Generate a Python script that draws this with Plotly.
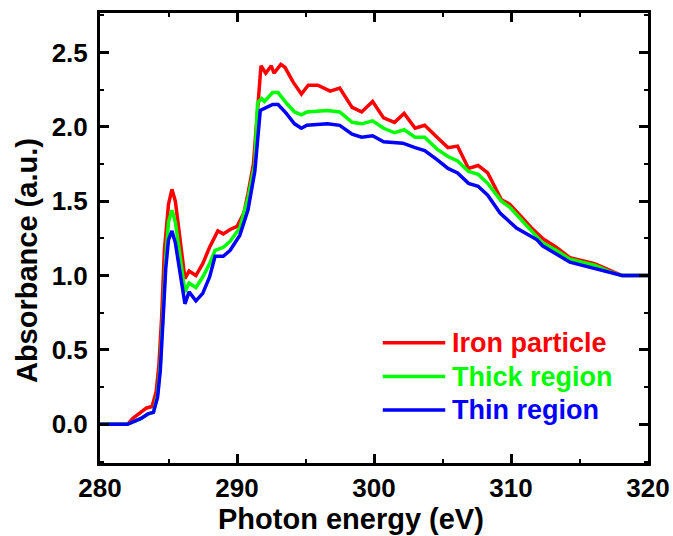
import plotly.graph_objects as go

# ---- data ----
energy_red = [280, 282, 282.4, 283.0, 283.4, 283.8, 284.1, 284.3, 284.5, 284.7, 285.0, 285.25, 285.5,
              286.2, 286.5, 287.0, 287.5, 288.0, 288.6, 289.0, 289.5, 290.0, 290.5, 290.8, 291.2,
              291.75, 292.1, 292.5, 292.7, 293.2, 293.5, 294.1, 294.7, 295.2, 295.9, 296.8, 297.5,
              298.4, 299.1, 299.9, 300.7, 301.5, 302.2, 303.0, 303.7, 304.6, 305.4, 306.1, 306.9,
              307.6, 308.3, 309.3, 309.9, 310.7, 311.5, 312.3, 313.3, 314.3, 316.1, 317.1, 318.1, 320]
iron_particle = [0.0, 0.0, 0.04, 0.08, 0.11, 0.12, 0.22, 0.40, 0.72, 1.17, 1.48, 1.58, 1.50,
                 0.98, 1.03, 1.00, 1.08, 1.19, 1.30, 1.28, 1.31, 1.33, 1.42, 1.55, 1.75,
                 2.41, 2.36, 2.41, 2.36, 2.42, 2.40, 2.30, 2.22, 2.28, 2.28, 2.24, 2.26,
                 2.13, 2.10, 2.17, 2.06, 2.03, 2.09, 1.99, 2.01, 1.93, 1.86, 1.87, 1.72,
                 1.74, 1.69, 1.51, 1.48, 1.40, 1.32, 1.25, 1.19, 1.12, 1.08, 1.04, 1.00, 1.00]

energy_green = [280, 282, 282.5, 283.0, 283.5, 283.9, 284.2, 284.4, 284.6, 284.8, 285.0, 285.25, 285.5,
                286.2, 286.5, 287.0, 287.5, 288.0, 288.4, 289.0, 289.5, 290.2, 290.8, 291.3,
                291.5, 291.8, 292.0, 292.6, 293.0, 293.6, 294.2, 294.7, 295.1, 296.6, 297.5,
                298.4, 299.1, 299.9, 300.7, 301.5, 302.2, 303.0, 303.7, 304.6, 305.4, 306.1, 306.9,
                307.6, 308.3, 309.3, 309.9, 310.7, 311.5, 312.3, 313.3, 314.3, 316.1, 317.1, 318.1, 320]
thick_region = [0.0, 0.0, 0.02, 0.04, 0.07, 0.08, 0.20, 0.40, 0.75, 1.12, 1.36, 1.44, 1.36,
                0.89, 0.95, 0.92, 0.99, 1.08, 1.17, 1.19, 1.23, 1.32, 1.52, 1.75,
                2.16, 2.19, 2.17, 2.23, 2.23, 2.16, 2.10, 2.08, 2.10, 2.11, 2.10,
                2.03, 2.02, 2.04, 1.99, 1.96, 1.98, 1.93, 1.93, 1.85, 1.80, 1.77, 1.70,
                1.68, 1.62, 1.50, 1.46, 1.38, 1.30, 1.22, 1.17, 1.11, 1.07, 1.03, 1.00, 1.00]

energy_blue = [280, 282, 282.5, 283.0, 283.5, 283.9, 284.2, 284.4, 284.6, 284.8, 285.0, 285.25, 285.5,
               286.2, 286.5, 287.0, 287.5, 288.0, 288.4, 289.0, 289.5, 290.2, 290.8, 291.3,
               291.7, 291.9, 292.6, 293.0, 293.6, 294.2, 294.7, 295.1, 296.6, 297.5,
               298.4, 299.1, 299.9, 300.7, 302.1, 303.0, 303.7, 304.6, 305.4, 306.1, 306.9,
               307.6, 308.3, 309.2, 310.4, 311.9, 312.3, 314.3, 316.1, 318.1, 320]
thin_region = [0.0, 0.0, 0.02, 0.04, 0.07, 0.08, 0.18, 0.36, 0.70, 1.05, 1.24, 1.30, 1.22,
               0.81, 0.89, 0.83, 0.88, 0.99, 1.13, 1.13, 1.17, 1.27, 1.44, 1.70,
               2.11, 2.12, 2.15, 2.15, 2.09, 2.02, 1.99, 2.01, 2.02, 2.01,
               1.95, 1.93, 1.94, 1.90, 1.89, 1.86, 1.84, 1.78, 1.72, 1.69, 1.62,
               1.60, 1.54, 1.42, 1.32, 1.24, 1.20, 1.09, 1.05, 1.00, 1.00]

x_ticks = [280, 290, 300, 310, 320]
y_ticks = [0.0, 0.5, 1.0, 1.5, 2.0, 2.5]

series_names = ["Iron particle", "Thick region", "Thin region"]
series_x = [energy_red, energy_green, energy_blue]
series_y = [iron_particle, thick_region, thin_region]
series_colors = ["#ff0000", "#00ff00", "#0000ff"]

font_family = "Liberation Sans, Arial, sans-serif"

fig = go.Figure()
for name, xs, ys, color in zip(series_names, series_x, series_y, series_colors):
    fig.add_trace(go.Scatter(
        x=xs, y=ys, mode="lines",
        line=dict(color=color, width=3.5),
        name=name, showlegend=False,
    ))

axis_common = dict(
    showline=True, linecolor="black", linewidth=3, mirror="allticks",
    ticks="inside", ticklen=9, tickwidth=3, tickcolor="black",
    showgrid=False, zeroline=False, automargin=False,
    tickfont=dict(family=font_family, size=26, color="black", weight="bold"),
)

fig.update_xaxes(
    range=[280, 320], tickvals=x_ticks, ticktext=[str(v) for v in x_ticks],
    minor=dict(dtick=5, tick0=280, ticks="inside", ticklen=4, tickwidth=2, tickcolor="black"),
    **axis_common,
)
fig.update_yaxes(
    range=[-0.26, 2.765], tickvals=y_ticks, ticktext=[f"{v:.1f}" for v in y_ticks],
    minor=dict(dtick=0.25, tick0=0, ticks="inside", ticklen=4, tickwidth=2, tickcolor="black"),
    ticklabelstandoff=4,
    **axis_common,
)

title_font = dict(family=font_family, size=29, color="black", weight="bold")
annotations = [
    dict(text="Photon energy (eV)", xref="paper", yref="paper", x=0.458, y=-0.125,
         xanchor="center", yanchor="middle", showarrow=False, font=title_font),
    dict(text="Absorbance (a.u.)", xref="paper", yref="paper", x=-0.133, y=0.449,
         xanchor="center", yanchor="middle", showarrow=False, textangle=-90, font=title_font),
]

# manual legend (long line samples, coloured labels)
legend_rows_y = [0.267, 0.192, 0.118]
shapes = []
for name, color, ly in zip(series_names, series_colors, legend_rows_y):
    shapes.append(dict(type="line", xref="paper", yref="paper", x0=0.516, x1=0.630, y0=ly, y1=ly,
                       line=dict(color=color, width=3.5)))
    annotations.append(dict(text=name, xref="paper", yref="paper", x=0.638, y=ly,
                            xanchor="left", yanchor="middle", showarrow=False,
                            font=dict(family=font_family, size=27, color=color, weight="bold")))

fig.update_layout(
    width=673, height=536,
    margin=dict(l=100, r=25, t=13, b=73),
    plot_bgcolor="white", paper_bgcolor="white",
    showlegend=False,
    annotations=annotations,
    shapes=shapes,
)

# remove the default page margin so the figure fills the window exactly
fig.write_html(
    "out.html",
    config={"displayModeBar": False},
    post_script="document.body.style.margin='0px';document.documentElement.style.overflow='hidden';",
)
